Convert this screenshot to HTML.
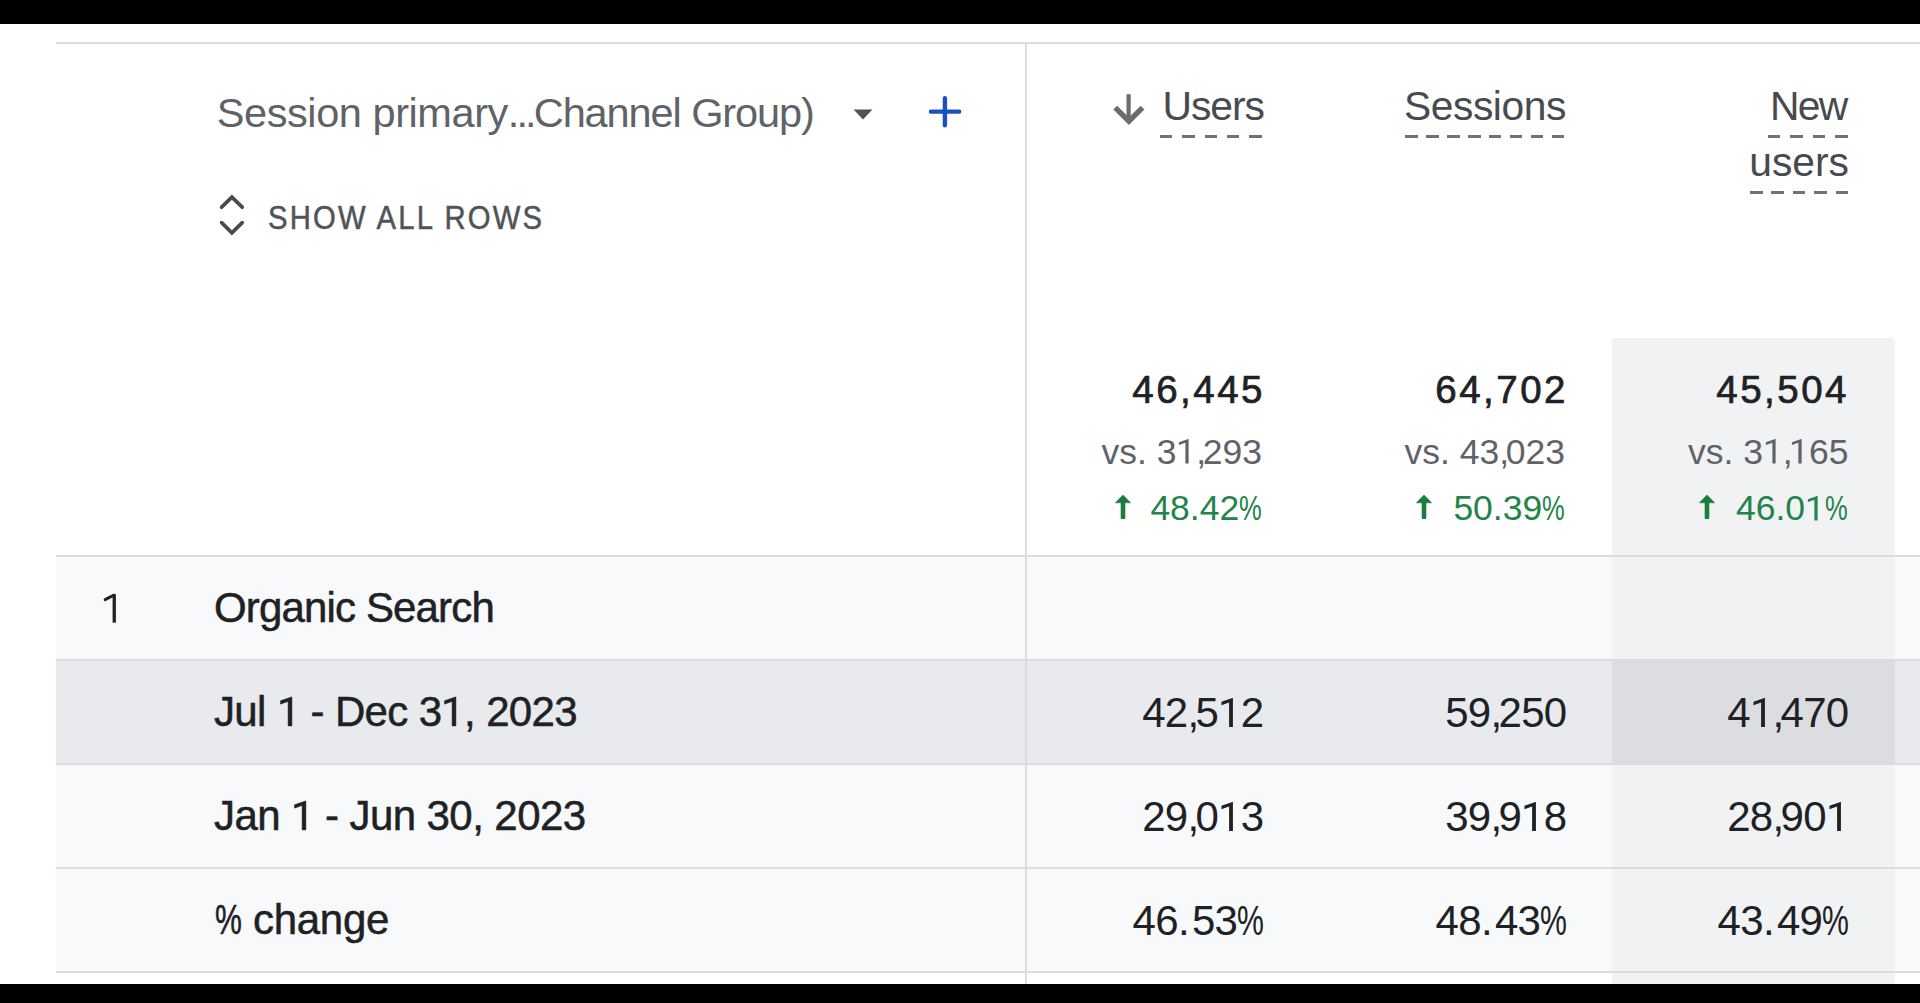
<!DOCTYPE html>
<html><head><meta charset="utf-8">
<style>
*{margin:0;padding:0;box-sizing:border-box}
html,body{width:1920px;height:1003px;overflow:hidden;background:#fff;font-family:"Liberation Sans",sans-serif}
.a{position:absolute}
.blk{background:#000;left:0;width:1920px}
.hl{position:absolute;background:#dadce0;height:2px;left:56px;width:1864px}
.t{position:absolute;white-space:nowrap;line-height:1}
.r{text-align:right}
.dash{position:absolute;height:3px;background:repeating-linear-gradient(to right,#717171 0,#717171 12.5px,transparent 12.5px,transparent var(--p))}
.hd{color:#474a4e;font-size:40.8px;top:85.65px}
.tot{color:#202124;font-size:38.5px;letter-spacing:2.5px;top:371.1px;-webkit-text-stroke:0.7px #202124}
.vs{color:#5f6368;font-size:35.5px;letter-spacing:0px;top:434.5px}
.pct{color:#23844a;font-size:35.5px;letter-spacing:0px;top:491.2px}
.cell{color:#202124;font-size:42px;letter-spacing:-0.7px}
.dim{color:#202124;font-size:42px;-webkit-text-stroke:0.5px #202124;left:214px}
.c1{right:656px}.c2{right:353px}.c3{right:70px}
.tot.c1{right:655px}.tot.c2{right:352px}.tot.c3{right:71px}
.vs.c1{right:658px}.vs.c2{right:355px}.vs.c3{right:71.5px}
.pct.c1{right:658px}.pct.c2{right:355px}.pct.c3{right:72.5px}
.cell.c1{right:656.5px}.cell.c2{right:353.5px}.cell.c3{right:71.5px}
.r1{top:587.1px}.r2{top:691.2px}.r3{top:795.2px}.r4{top:899.2px}
.ar{position:absolute;top:494px}
.pc{display:inline-block;transform:scaleX(.72);transform-origin:0 0}
.cell .pc{margin-right:-10.4px}
.pct .pc{margin-right:-8.8px}
.dim .pc{margin-right:-10.4px}
.cell .cm{letter-spacing:-3.7px}
.vs .cm{letter-spacing:-3.3px}
.cell .pd{letter-spacing:2.3px}
.one{display:inline;width:0.556em;height:0.688em;vertical-align:baseline;fill:currentColor;overflow:visible}
.cell .one{margin-right:-0.7px}
.dim .one{margin-right:-0.6px}
.dim .one path{stroke:currentColor;stroke-width:0.5px;vector-effect:non-scaling-stroke}

</style></head><body>
<div class="a blk" style="top:0;height:24px"></div>

<!-- backgrounds -->
<div class="a" style="left:56px;top:557px;width:1864px;height:103px;background:#f8f9fa"></div>
<div class="a" style="left:56px;top:660px;width:1864px;height:104px;background:#e8eaed"></div>
<div class="a" style="left:56px;top:764px;width:1864px;height:104px;background:#f8f9fa"></div>
<div class="a" style="left:56px;top:868px;width:1864px;height:104px;background:#f8f9fa"></div>

<!-- highlighted column -->
<div class="a" style="left:1612px;top:338px;width:283px;height:646px;background:#f1f2f4;border-radius:4px 4px 0 0"></div>
<div class="a" style="left:1612px;top:660px;width:283px;height:104px;background:#dcdde0"></div>

<!-- lines -->
<div class="hl" style="top:42px"></div>
<div class="hl" style="top:555px"></div>
<div class="hl" style="top:659px"></div>
<div class="hl" style="top:763px"></div>
<div class="hl" style="top:867px"></div>
<div class="hl" style="top:971px"></div>
<div class="a" style="left:1025px;top:42px;width:2px;height:942px;background:#dadce0"></div>

<!-- header left -->
<div class="t" style="left:216.8px;top:92.26px;font-size:41.5px;color:#5f6368;letter-spacing:-0.43px">Session primary<span style="letter-spacing:-2.9px">...</span><span style="letter-spacing:-1.09px">Channel Group)</span></div>
<svg class="a" style="left:853px;top:109px" width="20" height="11" viewBox="0 0 20 11"><path d="M0.6 0.6H19.4L10 10.4Z" fill="#4f5256"/></svg>
<svg class="a" style="left:929px;top:96px" width="33" height="32" viewBox="0 0 33 32"><path d="M15.9 2.2V29.2M2 15.6H30.2" stroke="#1b50c0" stroke-width="4.4" stroke-linecap="round"/></svg>

<svg class="a" style="left:216px;top:191px" width="32" height="48" viewBox="0 0 32 48"><path d="M5.6 16.2L15.9 6.2 26.2 16.2M5.6 31.6L15.9 41.8 26.2 31.6" fill="none" stroke="#474a4e" stroke-width="3.7" stroke-linecap="round" stroke-linejoin="miter"/></svg>
<div class="t" style="left:268px;top:201.9px;font-size:32.5px;color:#505357;letter-spacing:2.45px;-webkit-text-stroke:0.5px #505357;transform:scaleX(0.9);transform-origin:0 0">SHOW ALL ROWS</div>

<!-- column headers -->
<svg class="a" style="left:1108px;top:90px" width="40" height="40" viewBox="0 0 40 40"><path d="M20.6 4.2V29" fill="none" stroke="#6a6c70" stroke-width="4.2"/><path d="M7.2 17.6L20.9 31.2 34.6 17.6" fill="none" stroke="#6a6c70" stroke-width="5.4"/></svg>
<div class="t hd r" style="right:656px;letter-spacing:-1px">Users</div>
<div class="dash" style="left:1160px;top:135px;width:102px;--p:22.3px"></div>

<div class="t hd r" style="right:354px;letter-spacing:-0.43px">Sessions</div>
<div class="dash" style="left:1405px;top:135px;width:160px;--p:21px"></div>

<div class="t hd r" style="right:73.5px;letter-spacing:-1.7px">New</div>
<div class="dash" style="left:1768px;top:135px;width:80px;--p:22.5px"></div>
<div class="t hd r" style="right:71px;top:141.75px;letter-spacing:0px">users</div>
<div class="dash" style="left:1750px;top:191px;width:98px;--p:21.4px"></div>

<!-- totals -->
<div class="t tot r c1">46,445</div>
<div class="t tot r c2">64,702</div>
<div class="t tot r c3">45,504</div>

<div class="t vs r c1">vs. 3<svg class="one" viewBox="0 0 1139 1409"><path d="M728 1409H542V216L169 348V186L699 0H728Z"/></svg><span class="cm">,</span>293</div>
<div class="t vs r c2">vs. 43<span class="cm">,</span>023</div>
<div class="t vs r c3">vs. 3<svg class="one" viewBox="0 0 1139 1409"><path d="M728 1409H542V216L169 348V186L699 0H728Z"/></svg><span class="cm">,</span><svg class="one" viewBox="0 0 1139 1409"><path d="M728 1409H542V216L169 348V186L699 0H728Z"/></svg>65</div>

<div class="t pct r c1">48.42<span class="pc">%</span></div>
<div class="t pct r c2">50.39<span class="pc">%</span></div>
<div class="t pct r c3">46.0<svg class="one" viewBox="0 0 1139 1409"><path d="M728 1409H542V216L169 348V186L699 0H728Z"/></svg><span class="pc">%</span></div>
<svg class="ar" style="left:1115px" width="16" height="25" viewBox="0 0 16 25"><path d="M0.4 8.8L8 1 15.6 8.8Z M6 8H10V23.5A2 2 0 0 1 6 23.5Z" fill="#1a7f3c" stroke="#1a7f3c" stroke-width="0.6" stroke-linejoin="round"/></svg>
<svg class="ar" style="left:1415.5px" width="16" height="25" viewBox="0 0 16 25"><path d="M0.4 8.8L8 1 15.6 8.8Z M6 8H10V23.5A2 2 0 0 1 6 23.5Z" fill="#1a7f3c" stroke="#1a7f3c" stroke-width="0.6" stroke-linejoin="round"/></svg>
<svg class="ar" style="left:1699px" width="16" height="25" viewBox="0 0 16 25"><path d="M0.4 8.8L8 1 15.6 8.8Z M6 8H10V23.5A2 2 0 0 1 6 23.5Z" fill="#1a7f3c" stroke="#1a7f3c" stroke-width="0.6" stroke-linejoin="round"/></svg>

<!-- rows -->
<svg class="a" style="left:100px;top:590px" width="20" height="36" viewBox="0 0 20 36"><path d="M12.6 4.6H15.9V32.7H12.6Z" fill="#202124"/><path d="M5.2 9.6Q9 7.6 14.2 5.2" fill="none" stroke="#202124" stroke-width="3" stroke-linecap="round"/></svg>
<div class="t dim r1" style="letter-spacing:-0.85px">Organic Search</div>

<div class="t dim r2" style="letter-spacing:-0.65px">Jul <svg class="one" viewBox="0 0 1139 1409"><path d="M728 1409H542V216L169 348V186L699 0H728Z"/></svg> - Dec 3<svg class="one" viewBox="0 0 1139 1409"><path d="M728 1409H542V216L169 348V186L699 0H728Z"/></svg>, 2023</div>
<div class="t cell r c1" style="top:691.5px">42<span class="cm">,</span>5<svg class="one" viewBox="0 0 1139 1409"><path d="M728 1409H542V216L169 348V186L699 0H728Z"/></svg>2</div>
<div class="t cell r c2" style="top:691.5px">59<span class="cm">,</span>250</div>
<div class="t cell r c3" style="top:691.5px">4<svg class="one" viewBox="0 0 1139 1409"><path d="M728 1409H542V216L169 348V186L699 0H728Z"/></svg><span class="cm">,</span>470</div>

<div class="t dim r3" style="letter-spacing:-0.57px">Jan <svg class="one" viewBox="0 0 1139 1409"><path d="M728 1409H542V216L169 348V186L699 0H728Z"/></svg> - Jun 30, 2023</div>
<div class="t cell r c1" style="top:795.6px">29<span class="cm">,</span>0<svg class="one" viewBox="0 0 1139 1409"><path d="M728 1409H542V216L169 348V186L699 0H728Z"/></svg>3</div>
<div class="t cell r c2" style="top:795.6px">39<span class="cm">,</span>9<svg class="one" viewBox="0 0 1139 1409"><path d="M728 1409H542V216L169 348V186L699 0H728Z"/></svg>8</div>
<div class="t cell r c3" style="top:795.6px">28<span class="cm">,</span>90<svg class="one" viewBox="0 0 1139 1409"><path d="M728 1409H542V216L169 348V186L699 0H728Z"/></svg></div>

<div class="t dim r4" style="letter-spacing:-0.3px;left:215px"><span class="pc">%</span> change</div>
<div class="t cell r c1" style="top:899.6px">46<span class="pd">.</span>53<span class="pc">%</span></div>
<div class="t cell r c2" style="top:899.6px">48<span class="pd">.</span>43<span class="pc">%</span></div>
<div class="t cell r c3" style="top:899.6px">43<span class="pd">.</span>49<span class="pc">%</span></div>

<div class="a blk" style="top:984px;height:19px"></div>
</body></html>
